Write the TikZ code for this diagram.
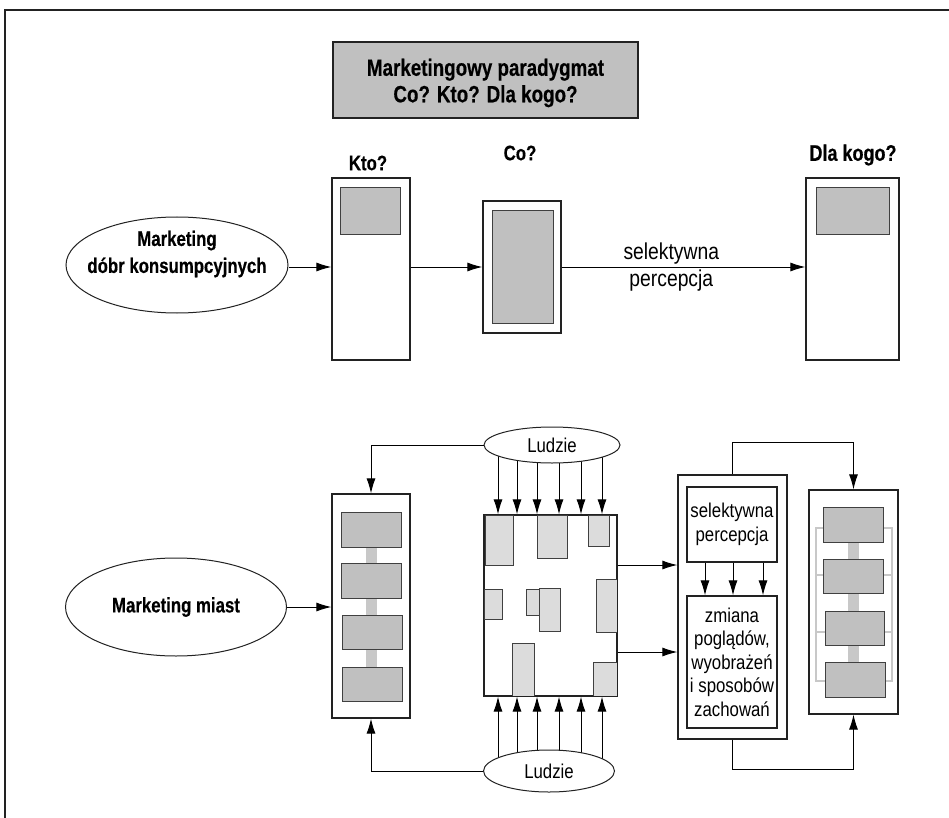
\documentclass[tikz,border=0pt]{standalone}
\usepackage{fontspec}
\setmainfont{Liberation Sans}[FakeStretch=0.84,BoldFeatures={FakeStretch=0.80,FakeBold=0.4}]
\usetikzlibrary{arrows.meta,shapes.geometric,backgrounds,calc}
\definecolor{boxgray}{HTML}{C0C0C0}
\definecolor{citygray}{HTML}{DCDCDC}
\definecolor{bargray}{HTML}{C8C8C8}
\definecolor{edgecol}{HTML}{222222}
\definecolor{rectedge}{HTML}{404040}
\tikzset{
  box/.style={draw=edgecol,line width=1.2pt,fill=white,rectangle,inner sep=0pt},
  graybox/.style={draw=rectedge,line width=1pt,fill=boxgray,rectangle,inner sep=0pt},
  cityrect/.style={draw=rectedge,line width=0.9pt,fill=citygray},
  bar/.style={fill=bargray,draw=none},
  frameline/.style={draw=bargray,line width=1.6pt},
  sz/.style 2 args={minimum width=#1pt,minimum height=#2pt},
  ell/.style={ellipse,draw=edgecol,line width=1pt,fill=white,inner sep=0pt},
  arr/.style={-{Latex[length=15pt,width=9pt]},line width=1pt,draw=black},
  txt/.style={font=\fontsize{20}{26}\selectfont,align=center,inner sep=0pt},
  bigtxt/.style={font=\fontsize{23}{26.5}\selectfont,align=center,inner sep=0pt},
  ntxt/.style={font=\fontsize{20}{23.5}\selectfont,align=center,inner sep=0pt},
  btxt/.style={font=\bfseries\fontsize{21}{27}\selectfont,align=center,inner sep=0pt},
  titletxt/.style={font=\bfseries\fontsize{23.5}{26.5}\selectfont,align=center,inner sep=0pt}
}
\begin{document}
\begin{tikzpicture}[x=1pt,y=-1pt]
\useasboundingbox (0,0) rectangle (949,818);
\draw[line width=1.3pt,edgecol] (5,818) -- (5,10) -- (949,10);

% title
\node[graybox,sz={305}{76},line width=1.5pt,draw=edgecol] (title) at (485.5,80) {};
\node[titletxt] (titletext) at (485.5,83) {Marketingowy paradygmat\\Co? Kto? Dla kogo?};

% top row
\node[btxt] (ktolbl) at (368,163) {Kto?};
\node[btxt] (colbl) at (520,153) {Co?};
\node[btxt,font=\bfseries\fontsize{22.5}{26}\selectfont] (dlalbl) at (853,155) {Dla kogo?};

\node[ell,sz={222}{96}] (ell1) at (177,265) {};
\node[btxt] (ell1txt) at (177,254) {Marketing\\dóbr konsumpcyjnych};

\node[box,sz={78}{182}] (kto) at (371,269) {};
\node[graybox,sz={60}{46}] (ktoin) at (370,211) {};
\node[box,sz={78}{132}] (co) at (522,267) {};
\node[graybox,sz={61}{112}] (coin) at (522.5,267) {};
\node[box,sz={93}{182}] (dla) at (852.5,269) {};
\node[graybox,sz={73}{46}] (dlain) at (852.5,211) {};

\coordinate (ay) at (0,267);
\draw[arr] (ell1.east |- ay) -- (kto.west |- ay);
\draw[arr] (kto.east |- ay) -- (co.west |- ay);
\draw[arr] (co.east |- ay) -- (dla.west |- ay)
  node[pos=0.45,bigtxt] (selpct) {selektywna\\percepcja};

% bottom row
\node[ell,sz={221}{98}] (ell2) at (176,607) {};
\node[btxt] (ell2txt) at (ell2) {Marketing miast};

\node[box,sz={78}{224}] (lbox) at (371,606) {};
\fill[bar] (366,547) rectangle (377,667);
\node[graybox,sz={60}{35}] (lr1) at (371,529.5) {};
\node[graybox,sz={60}{35}] (lr2) at (371.5,580.5) {};
\node[graybox,sz={60}{34}] (lr3) at (372,632) {};
\node[graybox,sz={60}{34}] (lr4) at (372.5,684) {};

\draw[arr] (ell2.east) -- (ell2.east -| lbox.west);

\node[ell,sz={136}{36}] (lud1) at (552,445) {};
\node[txt] (lud1txt) at (lud1) {Ludzie};
\node[ell,sz={131}{42}] (lud2) at (549,771) {};
\node[txt] (lud2txt) at (lud2) {Ludzie};

\node[box,sz={133}{181}] (city) at (550.5,605.5) {};
\draw[cityrect] (485,515) rectangle (513,565);
\draw[cityrect] (537,515) rectangle (567,558);
\draw[cityrect] (588,515) rectangle (609,546);
\draw[cityrect] (484,589) rectangle (502,619);
\draw[cityrect] (526,589) rectangle (539,615);
\draw[cityrect] (539,588) rectangle (560,631);
\draw[cityrect] (596,579) rectangle (617,632);
\draw[cityrect] (512,643) rectangle (534,696);
\draw[cityrect] (593,662) rectangle (617,696);
\draw[edgecol,line width=1.2pt] (city.south west) rectangle (city.north east);

\begin{scope}[on background layer]
\foreach \d in {-52.5,-33.5,-13.5,8.5,30.5,51.5}{
  \draw[arr] ([xshift=\d pt]city.north |- lud1.center) -- ([xshift=\d pt]city.north);
  \draw[arr] ([xshift=\d pt]city.south |- lud2.center) -- ([xshift=\d pt]city.south);
}
\end{scope}

\draw[arr] (lud1.west) -| (lbox.north);
\draw[arr] (lud2.west) -| (lbox.south);

% right group
\node[box,sz={109}{264}] (rbox) at (732.5,607) {};
\node[box,sz={90}{75}] (sel) at (732,524.5) {};
\node[ntxt] (seltxt) at (sel) {selektywna\\percepcja};
\node[box,sz={90}{132}] (zm) at (732,662) {};
\node[ntxt] (zmtxt) at (zm) {zmiana\\poglądów,\\wyobrażeń\\i sposobów\\zachowań};
\foreach \d in {-27,1,31}{
  \draw[arr] ([xshift=\d pt]sel.south) -- ([xshift=\d pt]sel.south |- zm.north);
}

\draw[arr] ([yshift=40.5pt]city.east) -- ([yshift=40.5pt]city.east -| rbox.west);
\draw[arr] ([yshift=-46.5pt]city.east) -- ([yshift=-46.5pt]city.east -| rbox.west);

\node[box,sz={89}{224}] (fbox) at (853.5,602) {};
\draw[frameline] (816,528) rectangle (892,681);
\draw[frameline] (816,575) -- (892,575);
\draw[frameline] (816,632) -- (892,632);
\fill[bar] (848,542) rectangle (859,662);
\node[graybox,sz={60}{35}] (fr1) at (853,524.5) {};
\node[graybox,sz={60}{34}] (fr2) at (853.5,576) {};
\node[graybox,sz={59}{34}] (fr3) at (854.5,628) {};
\node[graybox,sz={60}{35}] (fr4) at (855,679.5) {};

\draw[arr] (rbox.north) -- ++(0,-32) -| (fbox.north);
\draw[arr] (rbox.south) -- ++(0,30) -| (fbox.south);
\end{tikzpicture}
\end{document}
